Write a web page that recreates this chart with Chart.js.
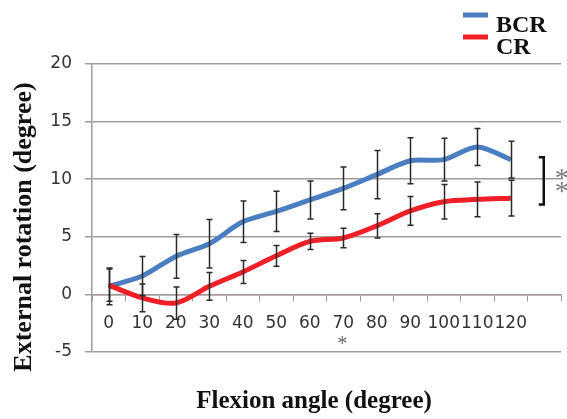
<!DOCTYPE html>
<html>
<head>
<meta charset="utf-8">
<script src="https://cdn.jsdelivr.net/npm/chart.js@4/dist/chart.umd.min.js"></script>
<style>
html,body{margin:0;padding:0;background:#fff;}
#wrap{width:567px;height:419px;position:relative;}
</style>
</head>
<body>
<div id="wrap"><canvas id="c" width="567" height="419"></canvas></div>
<script>
const categories = ['0','10','20','30','40','50','60','70','80','90','100','110','120',''];
const bcrMean = [0.7, 1.6, 3.3, 4.4, 6.3, 7.2, 8.2, 9.2, 10.4, 11.6, 11.7, 12.8, 11.7];
const bcrErr  = [1.6, 1.7, 1.9, 2.1, 1.8, 1.75, 1.65, 1.85, 2.1, 2.0, 1.85, 1.6, 1.6];
const crMean  = [0.8, -0.3, -0.75, 0.7, 1.95, 3.35, 4.6, 4.9, 5.95, 7.25, 8.05, 8.25, 8.35];
const crErr   = [1.4, 1.2, 1.4, 1.2, 1.0, 0.9, 0.7, 0.85, 1.05, 1.25, 1.5, 1.5, 1.55];
const yTicks  = [-5, 0, 5, 10, 15, 20];
const sigAngles = ['70'];
const bracketRange = [7.8, 11.9];

const GRID = '#a39b9b';
const BLUE = '#4a7ec0';
const RED = '#ee1f26';

const errorBars = {
  id: 'errorBars',
  afterDatasetsDraw(chart) {
    const ctx = chart.ctx, ys = chart.scales.y;
    const errs = [bcrErr, crErr];
    ctx.save();
    ctx.strokeStyle = '#2a2a2a';
    ctx.lineWidth = 1.5;
    chart.data.datasets.forEach((ds, di) => {
      const meta = chart.getDatasetMeta(di);
      meta.data.forEach((pt, i) => {
        const v = ds.data[i], e = errs[di][i];
        if (v == null) return;
        const x = Math.round(pt.x) + 0.5;
        const t = ys.getPixelForValue(v + e), b = ys.getPixelForValue(v - e);
        ctx.beginPath();
        ctx.moveTo(x, t); ctx.lineTo(x, b);
        ctx.moveTo(x - 3, t); ctx.lineTo(x + 3, t);
        ctx.moveTo(x - 3, b); ctx.lineTo(x + 3, b);
        ctx.stroke();
      });
    });
    ctx.restore();
  }
};

function centeredGlyph(ctx, ch, cx, cy) {
  const m = ctx.measureText(ch);
  const asc = m.actualBoundingBoxAscent, desc = m.actualBoundingBoxDescent;
  const l = m.actualBoundingBoxLeft, r = m.actualBoundingBoxRight;
  ctx.textAlign = 'left';
  ctx.textBaseline = 'alphabetic';
  ctx.fillText(ch, cx - (r - l) / 2, cy + (asc - desc) / 2);
}

const extras = {
  id: 'extras',
  afterDraw(chart) {
    const ctx = chart.ctx, xs = chart.scales.x, ys = chart.scales.y;
    ctx.save();
    // legend
    const ds = chart.data.datasets;
    const legendRows = [15, 37];
    ds.forEach((d, i) => {
      ctx.strokeStyle = d.borderColor;
      ctx.lineWidth = 5;
      ctx.beginPath();
      ctx.moveTo(463, legendRows[i]); ctx.lineTo(488, legendRows[i]);
      ctx.stroke();
      ctx.fillStyle = '#111';
      ctx.font = 'bold 24px "Liberation Serif", "Times New Roman", serif';
      ctx.textAlign = 'left';
      ctx.textBaseline = 'alphabetic';
      ctx.fillText(d.label, 496, legendRows[i] + 17);
    });
    // axis titles
    ctx.fillStyle = '#111';
    ctx.font = 'bold 25px "Liberation Serif", "Times New Roman", serif';
    ctx.textAlign = 'center';
    ctx.textBaseline = 'middle';
    ctx.fillText('Flexion angle (degree)', 314, 402);
    ctx.save();
    ctx.translate(24, 227);
    ctx.rotate(-Math.PI / 2);
    ctx.font = 'bold 26px "Liberation Serif", "Times New Roman", serif';
    ctx.fillText('External rotation (degree)', 0, 0);
    ctx.restore();
    // significance star under angle
    ctx.fillStyle = '#666';
    ctx.font = '20px "Liberation Serif", serif';
    sigAngles.forEach(a => {
      const idx = categories.indexOf(a);
      centeredGlyph(ctx, '*', xs.getPixelForValue(idx) - 6, ys.getPixelForValue(-4.4));
    });
    // bracket
    const bx = xs.getPixelForValue(categories.length - 2) + 33;
    const bt = ys.getPixelForValue(bracketRange[1]), bb = ys.getPixelForValue(bracketRange[0]);
    ctx.strokeStyle = '#111';
    ctx.lineWidth = 2.5;
    ctx.beginPath();
    ctx.moveTo(bx - 5, bt); ctx.lineTo(bx, bt); ctx.lineTo(bx, bb); ctx.lineTo(bx - 5, bb);
    ctx.stroke();
    ctx.fillStyle = '#7a7a7a';
    ctx.font = '28px "Liberation Serif", serif';
    const mid = (bt + bb) / 2;
    centeredGlyph(ctx, '*', bx + 18, mid - 6);
    centeredGlyph(ctx, '*', bx + 18, mid + 7);
    ctx.restore();
  }
};

new Chart(document.getElementById('c'), {
  type: 'line',
  data: {
    labels: categories,
    datasets: [
      { label: 'BCR', data: bcrMean, borderColor: BLUE, backgroundColor: BLUE, borderWidth: 5, pointRadius: 0, tension: 0.3, order: 1 },
      { label: 'CR', data: crMean, borderColor: RED, backgroundColor: RED, borderWidth: 5, pointRadius: 0, tension: 0.3, order: 0 }
    ]
  },
  options: {
    responsive: false,
    animation: false,
    devicePixelRatio: 1,
    layout: { padding: { left: 0, right: 6, top: 64, bottom: 67 } },
    plugins: { legend: { display: false }, tooltip: { enabled: false } },
    scales: {
      x: {
        type: 'category',
        offset: true,
        position: { y: 0 },
        afterFit(s) { s.height = 0; },
        grid: { display: true, drawOnChartArea: false, drawTicks: true, tickLength: 6, color: GRID, offset: true },
        border: { display: true, color: GRID, width: 1.5 },
        ticks: { autoSkip: false, maxRotation: 0, minRotation: 0, padding: 13, color: '#333', font: { family: '"DejaVu Sans", sans-serif', size: 17 } }
      },
      y: {
        min: -5, max: 20,
        afterFit(s) { s.width = 92; },
        afterBuildTicks(s) { s.ticks = yTicks.map(v => ({ value: v })); },
        grid: { color: GRID, lineWidth: 1.5, tickLength: 7 },
        border: { display: true, color: GRID, width: 1.5 },
        ticks: { padding: 13, color: '#333', font: { family: '"DejaVu Sans", sans-serif', size: 17 } }
      }
    }
  },
  plugins: [errorBars, extras]
});
</script>
</body>
</html>
